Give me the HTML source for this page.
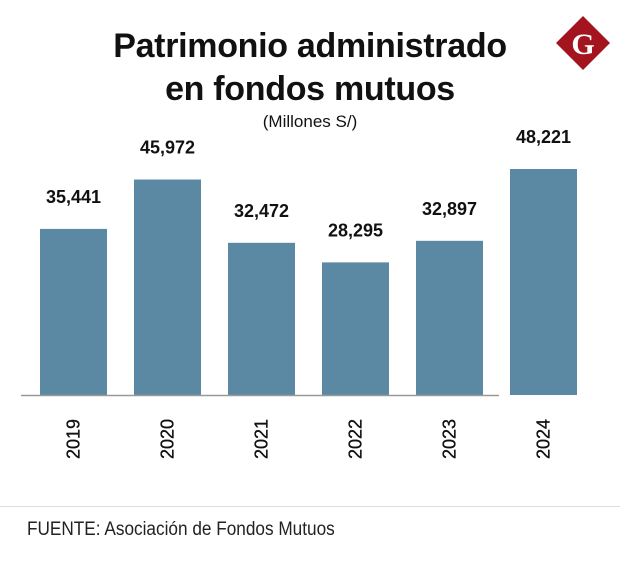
<!DOCTYPE html>
<html><head><meta charset="utf-8"><style>
body{margin:0;width:620px;height:576px;background:#fff;font-family:"Liberation Sans",sans-serif;overflow:hidden;position:relative}
.t{position:absolute;left:0;width:620px;text-align:center;font-weight:bold;font-size:34px;color:#111;letter-spacing:-0.3px}
</style></head><body>
<div class="t" style="top:25px;line-height:43px">Patrimonio administrado<br>en fondos mutuos</div>
<div style="position:absolute;top:112px;left:0;width:620px;text-align:center;font-size:17px;color:#111">(Millones S/)</div>
<svg style="position:absolute;left:0;top:0" width="620" height="576">
<polygon points="583,16 610,43 583,70 556,43" fill="#a3141f"/>
<text x="583" y="54" text-anchor="middle" font-family="Liberation Serif,serif" font-weight="bold" font-size="30" fill="#fff">G</text>
</svg>
<svg id="chart" style="position:absolute;left:0;top:0" width="620" height="576"></svg>
<div style="position:absolute;left:0;top:506px;width:620px;height:1px;background:#ddd"></div>
<div style="position:absolute;left:27px;top:519px;font-size:19px;color:#222;transform:scaleX(0.905);transform-origin:0 0;white-space:nowrap">FUENTE: Asociación de Fondos Mutuos</div>
<script>
const categories=["2019","2020","2021","2022","2023","2024"];
const values=[35441,45972,32472,28295,32897,48221];
const labels=["35,441","45,972","32,472","28,295","32,897","48,221"];
const NS="http://www.w3.org/2000/svg";
const svg=document.getElementById("chart");
const base=395,scale=226/48221;
function y(v){return base-v*scale;}
function x(i){return 40+i*94;}
const bw=67;
categories.forEach((c,i)=>{
 const r=document.createElementNS(NS,"rect");
 r.setAttribute("x",x(i));r.setAttribute("y",y(values[i]));r.setAttribute("width",bw);r.setAttribute("height",base-y(values[i]));r.setAttribute("fill","#5b89a4");
 
 
 svg.appendChild(r);
 const t=document.createElementNS(NS,"text");
 t.setAttribute("x",x(i)+bw/2);t.setAttribute("y",y(values[i])-26);t.setAttribute("text-anchor","middle");t.setAttribute("font-weight","bold");t.setAttribute("font-size","18");t.setAttribute("fill","#111");
 t.textContent=labels[i];
 
 
 svg.appendChild(t);
 const yl=document.createElementNS(NS,"text");
 const cx=x(i)+bw/2+6,cy=439;
 yl.setAttribute("x",cx);yl.setAttribute("y",cy);yl.setAttribute("text-anchor","middle");yl.setAttribute("font-size","18");yl.setAttribute("fill","#111");yl.setAttribute("stroke","#111");yl.setAttribute("stroke-width","0.3");
 yl.setAttribute("transform","rotate(-90 "+cx+" "+cy+")");
 yl.textContent=c;
 
 
 svg.appendChild(yl);
});
const ax=document.createElementNS(NS,"line");
ax.setAttribute("x1",21);ax.setAttribute("x2",499);ax.setAttribute("y1",base+0.5);ax.setAttribute("y2",base+0.5);ax.setAttribute("stroke","#999");ax.setAttribute("stroke-width","1.5");


svg.appendChild(ax);
</script>
</body></html>
